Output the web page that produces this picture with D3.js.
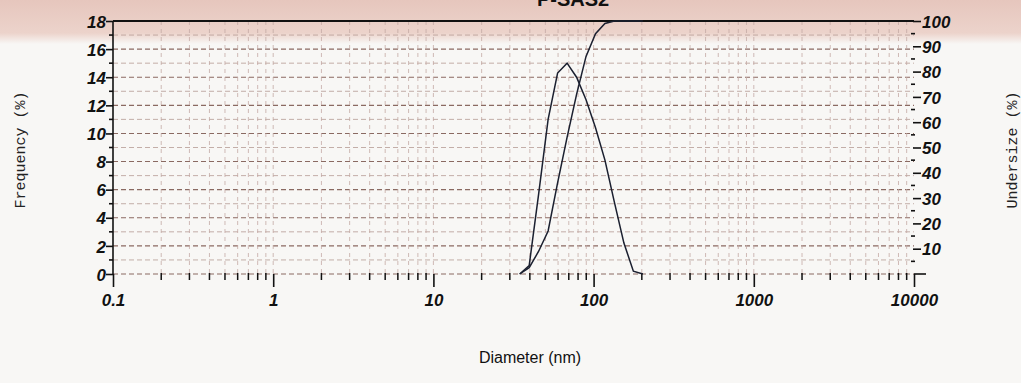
<!DOCTYPE html>
<html>
<head>
<meta charset="utf-8">
<script src="https://cdn.jsdelivr.net/npm/d3@7"></script>
<style>
  body { margin: 0; background: #f8f7f5; }
  svg { display: block; }
  .tick-lbl { font-family: "Liberation Sans", Arial, sans-serif; font-weight: bold; font-style: italic; font-size: 17px; fill: #111; }
  .mono { font-family: "Courier New", "Liberation Mono", monospace; font-size: 15px; fill: #222; }
</style>
</head>
<body>
<svg id="chart" width="1021" height="383"></svg>
<script>
// bin diameters (nm), frequency (%) and cumulative undersize (%)
const diameters = [34.58, 39.62, 45.4, 52.01, 59.6, 68.3, 78.3, 89.7, 102.8, 117.7, 134.9, 154.6, 177.1, 202.9];
const frequency = [0, 0.6, 5.7, 11.0, 14.3, 15.0, 14.0, 12.4, 10.4, 8.1, 5.1, 2.2, 0.2, 0];
const undersize = [0, 2.5, 9, 17, 36, 54, 71, 86, 95, 99, 100, 100, 100, 100];

const xTicks = [0.1, 1, 10, 100, 1000, 10000];
const xTickLabels = ["0.1", "1", "10", "100", "1000", "10000"];
const freqTicks = [0, 2, 4, 6, 8, 10, 12, 14, 16, 18];
const underTicks = [10, 20, 30, 40, 50, 60, 70, 80, 90, 100];

const svg = d3.select('#chart');
const W = 1021, H = 383;
const pL = 113, pR = 914, pT = 21, pB = 274;

// paper tint at the top
const defs = svg.append('defs');
const grad = defs.append('linearGradient').attr('id', 'band').attr('x1', 0).attr('y1', 0).attr('x2', 0).attr('y2', 1);
grad.append('stop').attr('offset', '0%').attr('stop-color', '#e6c6bd');
grad.append('stop').attr('offset', '75%').attr('stop-color', '#ecd3cb');
grad.append('stop').attr('offset', '100%').attr('stop-color', '#f8f7f5');
svg.append('rect').attr('width', W).attr('height', H).attr('fill', '#f8f7f5');
svg.append('rect').attr('width', W).attr('height', 44).attr('fill', 'url(#band)');

const x = d3.scaleLog().domain([0.1, 10000]).range([pL, pR]);
const yF = d3.scaleLinear().domain([0, 18]).range([pB, pT]);
const yU = d3.scaleLinear().domain([0, 100]).range([pB, pT]);

// minor log positions
const minorX = [];
for (let e = -1; e < 4; e++) {
  for (let m = 2; m <= 9; m++) minorX.push(m * Math.pow(10, e));
}

// grid
const grid = svg.append('g');
grid.selectAll('line.h')
  .data(d3.range(0, 18))
  .enter().append('line')
  .attr('x1', pL).attr('x2', pR)
  .attr('y1', d => yF(d)).attr('y2', d => yF(d))
  .attr('stroke', d => d % 2 === 0 ? '#8a6a62' : '#b59a94')
  .attr('stroke-width', d => d % 2 === 0 ? 1.1 : 0.8)
  .attr('stroke-dasharray', '5,3');
grid.selectAll('line.v')
  .data(minorX.concat([1, 10, 100, 1000]))
  .enter().append('line')
  .attr('x1', d => x(d)).attr('x2', d => x(d))
  .attr('y1', pT).attr('y2', pB)
  .attr('stroke', '#c4aaa4')
  .attr('stroke-width', 0.8)
  .attr('stroke-dasharray', '4,4');

// frame: top line and left axis line
svg.append('line').attr('x1', pL).attr('x2', pR).attr('y1', pT).attr('y2', pT)
  .attr('stroke', '#111').attr('stroke-width', 2);
svg.append('line').attr('x1', pL).attr('x2', pL).attr('y1', pT).attr('y2', pB)
  .attr('stroke', '#111').attr('stroke-width', 1.6);

// left axis
const yAxisL = d3.axisLeft(yF).tickValues(freqTicks).tickSize(7).tickFormat(d3.format('d'));
const gL = svg.append('g').attr('transform', `translate(${pL},0)`).call(yAxisL);
gL.select('.domain').remove();
gL.selectAll('.tick line').attr('stroke', '#111').attr('stroke-width', 1.6);
gL.selectAll('.tick text').attr('class', 'tick-lbl').attr('x', -7).attr('dy', '0.36em');
svg.append('g').selectAll('line')
  .data(d3.range(1, 18, 2))
  .enter().append('line')
  .attr('x1', pL - 4).attr('x2', pL)
  .attr('y1', d => yF(d)).attr('y2', d => yF(d))
  .attr('stroke', '#111').attr('stroke-width', 1.6);

// right axis
const yAxisR = d3.axisRight(yU).tickValues(underTicks).tickSize(8).tickFormat(d3.format('d'));
const gR = svg.append('g').attr('transform', `translate(${pR - 1},0)`).call(yAxisR);
gR.select('.domain').remove();
gR.selectAll('.tick line').attr('stroke', '#111').attr('stroke-width', 1.6);
gR.selectAll('.tick text').attr('class', 'tick-lbl').attr('x', 9).attr('dy', '0.36em');
svg.append('g').selectAll('line')
  .data(d3.range(5, 100, 10))
  .enter().append('line')
  .attr('x1', pR - 3).attr('x2', pR + 1)
  .attr('y1', d => yU(d)).attr('y2', d => yU(d))
  .attr('stroke', '#111').attr('stroke-width', 1.6);
svg.append('line').attr('x1', pR).attr('x2', pR + 12).attr('y1', pB).attr('y2', pB)
  .attr('stroke', '#111').attr('stroke-width', 1.6);

// bottom axis
const xAxis = d3.axisBottom(x).tickValues(xTicks).tickSize(13)
  .tickFormat((d, i) => xTickLabels[i]);
const gX = svg.append('g').attr('transform', `translate(0,${pB})`).call(xAxis);
gX.select('.domain').remove();
gX.selectAll('.tick line').attr('stroke', '#111').attr('stroke-width', 1.6);
gX.selectAll('.tick text').attr('class', 'tick-lbl').attr('y', 20).attr('dy', '0.71em');
svg.append('g').selectAll('line')
  .data(minorX)
  .enter().append('line')
  .attr('x1', d => x(d)).attr('x2', d => x(d))
  .attr('y1', pB - 1).attr('y2', pB + 6)
  .attr('stroke', '#111').attr('stroke-width', 1.5);

// curves
const lineF = d3.line().x((d, i) => x(diameters[i])).y(d => yF(d));
const lineU = d3.line().x((d, i) => x(diameters[i])).y(d => yU(d));
svg.append('path').datum(frequency).attr('d', lineF)
  .attr('fill', 'none').attr('stroke', '#1b2030').attr('stroke-width', 1.5);
svg.append('path').datum(undersize).attr('d', lineU)
  .attr('fill', 'none').attr('stroke', '#1b2030').attr('stroke-width', 1.5);

// texts
svg.append('text').attr('x', 573).attr('y', 6).attr('text-anchor', 'middle')
  .attr('font-family', 'Liberation Sans, Arial, sans-serif').attr('font-weight', 'bold')
  .attr('font-size', 20).attr('fill', '#111').text('P-SAS2');
svg.append('text').attr('class', 'mono')
  .attr('transform', 'translate(25,150) rotate(-90)').attr('text-anchor', 'middle')
  .text('Frequency (%)');
svg.append('text').attr('class', 'mono')
  .attr('transform', 'translate(1017,150) rotate(-90)').attr('text-anchor', 'middle')
  .text('Undersize (%)');
svg.append('text').attr('x', 530).attr('y', 363).attr('text-anchor', 'middle')
  .attr('font-family', 'Liberation Sans, Arial, sans-serif').attr('font-size', 16)
  .attr('fill', '#111').text('Diameter (nm)');
</script>
</body>
</html>
